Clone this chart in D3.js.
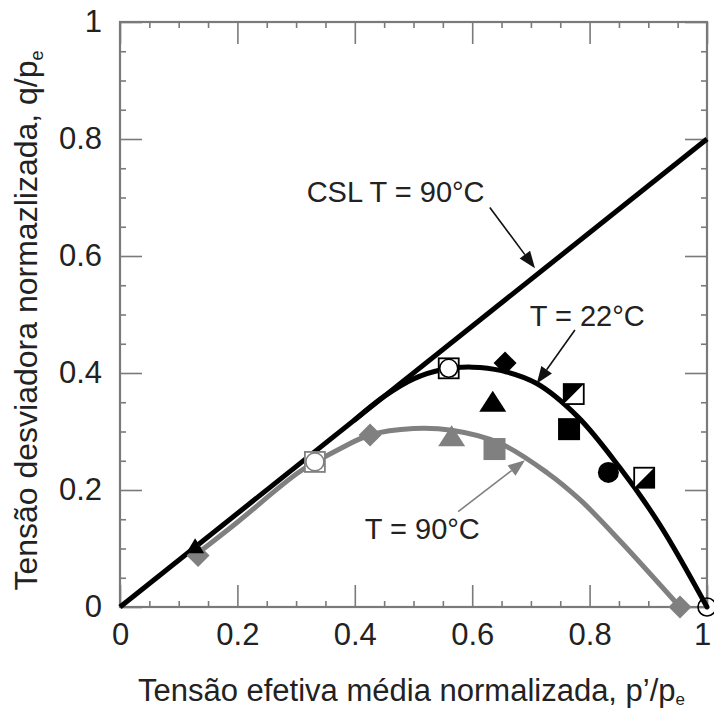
<!DOCTYPE html>
<html>
<head>
<meta charset="utf-8">
<script src="https://cdn.jsdelivr.net/npm/d3@7"></script>
<style>
  body { margin: 0; background: #fff; }
  text { font-family: "Liberation Sans", Arial, sans-serif; fill: #222; }
  .tick text { font-family: "Liberation Sans Narrow", "Liberation Sans", Arial, sans-serif; }
</style>
</head>
<body>
<svg id="chart" width="714" height="711"></svg>
<script>
// Axis ticks
const majorTicks = [0, 0.2, 0.4, 0.6, 0.8, 1];
const minorTicks = d3.range(0, 1.0001, 0.05).map(v => +v.toFixed(2)).filter(v => !majorTicks.includes(v));
const tickLabels = ["0", "0.2", "0.4", "0.6", "0.8", "1"];

// Critical state line at 90°C (p'/pe, q/pe)
const cslLine = [[0, 0], [1, 0.8]];

// Yield envelopes at 22°C and 90°C
const curve22 = [[0.40, 0.32], [0.45, 0.36], [0.50, 0.39], [0.55, 0.406], [0.60, 0.41], [0.65, 0.404],
                 [0.71, 0.382], [0.78, 0.325], [0.85, 0.24], [0.92, 0.14], [1.0, 0]];
const curve90 = [[0.13, 0.09], [0.20, 0.145], [0.307, 0.232], [0.37, 0.268], [0.426, 0.294], [0.50, 0.305],
                 [0.565, 0.302], [0.647, 0.28], [0.727, 0.23], [0.784, 0.183], [0.85, 0.115], [0.954, 0]];

// Test results: [p'/pe, q/pe, symbol]
const points90 = [[0.133, 0.088, "diamond"], [0.332, 0.248, "squareCircle"], [0.426, 0.294, "diamond"],
                  [0.565, 0.292, "triangle"], [0.638, 0.27, "square"], [0.954, 0, "diamond"]];
const points22 = [[0.128, 0.104, "triangleSmall"], [0.56, 0.408, "squareCircle"], [0.656, 0.417, "diamond"],
                  [0.635, 0.351, "triangle"], [0.773, 0.364, "halfSquareUL"], [0.765, 0.304, "square"],
                  [0.832, 0.230, "circle"], [0.893, 0.221, "halfSquareLR"], [1.0, 0, "openCircle"]];

// Annotations: label, text anchor point, arrow start, arrow tip, colour
const annotLabels = ["CSL T = 90°C", "T = 22°C", "T = 90°C"];
const annotText = [[0.318, 0.692], [0.698, 0.480], [0.417, 0.116]];
const annotFrom = [[0.630, 0.683], [0.775, 0.4735], [0.576, 0.163]];
const annotTo = [[0.707, 0.579], [0.71, 0.382], [0.690, 0.251]];
const annotColor = ["#111", "#111", "#808080"];

const BLACK = "#000";
const GREY = "#808080";
const FRAME = "#7a7a7a";

const svg = d3.select("#chart");
const x = d3.scaleLinear().domain([0, 1]).range([120, 707]);
const y = d3.scaleLinear().domain([0, 1]).range([607, 22]);

// Frame
svg.append("rect")
  .attr("x", x(0)).attr("y", y(1))
  .attr("width", x(1) - x(0)).attr("height", y(0) - y(1))
  .attr("fill", "none").attr("stroke", FRAME).attr("stroke-width", 2.2);

function styleAxis(g, showText) {
  g.select(".domain").remove();
  g.selectAll(".tick line").attr("stroke", FRAME).attr("stroke-width", 1.6);
  if (!showText) g.selectAll(".tick text").remove();
}

const fmt = (d) => tickLabels[majorTicks.indexOf(d)];

// Bottom
svg.append("g").attr("transform", `translate(0,${y(0)})`)
  .call(d3.axisBottom(x).tickValues(majorTicks).tickSize(-22).tickPadding(16).tickFormat(fmt))
  .call(g => styleAxis(g, true))
  .call(g => g.selectAll(".tick text").attr("font-size", 31).attr("fill", "#2a2a2a")
    .attr("dx", d => d === 1 ? -5 : 0));
svg.append("g").attr("transform", `translate(0,${y(0)})`)
  .call(d3.axisBottom(x).tickValues(minorTicks).tickSize(-6))
  .call(g => styleAxis(g, false));
// Top
svg.append("g").attr("transform", `translate(0,${y(1)})`)
  .call(d3.axisTop(x).tickValues(majorTicks).tickSize(-22))
  .call(g => styleAxis(g, false));
svg.append("g").attr("transform", `translate(0,${y(1)})`)
  .call(d3.axisTop(x).tickValues(minorTicks).tickSize(-6))
  .call(g => styleAxis(g, false));
// Left
svg.append("g").attr("transform", `translate(${x(0)},0)`)
  .call(d3.axisLeft(y).tickValues(majorTicks).tickSize(-22).tickPadding(18).tickFormat(fmt))
  .call(g => styleAxis(g, true))
  .call(g => g.selectAll(".tick text").attr("font-size", 31).attr("fill", "#2a2a2a"));
svg.append("g").attr("transform", `translate(${x(0)},0)`)
  .call(d3.axisLeft(y).tickValues(minorTicks).tickSize(-6))
  .call(g => styleAxis(g, false));
// Right
svg.append("g").attr("transform", `translate(${x(1)},0)`)
  .call(d3.axisRight(y).tickValues(majorTicks).tickSize(-22))
  .call(g => styleAxis(g, false));
svg.append("g").attr("transform", `translate(${x(1)},0)`)
  .call(d3.axisRight(y).tickValues(minorTicks).tickSize(-6))
  .call(g => styleAxis(g, false));

// Axis titles
const xt = svg.append("text").attr("x", (x(0) + x(1)) / 2 - 2).attr("y", 701)
  .attr("text-anchor", "middle").attr("font-size", 31);
xt.append("tspan").text("Tensão efetiva média normalizada, p’/p");
xt.append("tspan").attr("font-size", 17).attr("dy", 4).text("e");

const yt = svg.append("text")
  .attr("transform", `translate(37,${(y(0) + y(1)) / 2 + 6}) rotate(-90)`)
  .attr("text-anchor", "middle").attr("font-size", 32);
yt.append("tspan").text("Tensão desviadora normazlizada, q/p");
yt.append("tspan").attr("font-size", 18).attr("dy", 6).text("e");

// Lines
const line = d3.line().x(d => x(d[0])).y(d => y(d[1])).curve(d3.curveCatmullRom.alpha(0.5));

svg.append("path").datum(curve90).attr("d", line)
  .attr("fill", "none").attr("stroke", GREY).attr("stroke-width", 5).attr("stroke-linecap", "round");
svg.append("path").datum(cslLine).attr("d", d3.line().x(d => x(d[0])).y(d => y(d[1])))
  .attr("fill", "none").attr("stroke", BLACK).attr("stroke-width", 5);
svg.append("path").datum(curve22).attr("d", line)
  .attr("fill", "none").attr("stroke", BLACK).attr("stroke-width", 5).attr("stroke-linecap", "round");

// Markers
function drawMarker(g, cx, cy, shape, color) {
  const m = g.append("g").attr("transform", `translate(${cx},${cy})`);
  switch (shape) {
    case "diamond":
      m.append("path").attr("d", "M0,-11.5L11.5,0L0,11.5L-11.5,0Z").attr("fill", color);
      break;
    case "triangle":
      m.append("path").attr("d", "M0,-11L13.5,10L-13.5,10Z").attr("fill", color);
      break;
    case "triangleSmall":
      m.append("path").attr("d", "M0,-8L9,7L-9,7Z").attr("fill", color);
      break;
    case "square":
      m.append("rect").attr("x", -11).attr("y", -11).attr("width", 22).attr("height", 22).attr("fill", color);
      break;
    case "circle":
      m.append("circle").attr("r", 10.5).attr("fill", color);
      break;
    case "openCircle":
      m.append("circle").attr("r", 9).attr("fill", "none").attr("stroke", color).attr("stroke-width", 1.6);
      break;
    case "squareCircle":
      m.append("rect").attr("x", -10).attr("y", -10).attr("width", 20).attr("height", 20)
        .attr("fill", "#fff").attr("stroke", color).attr("stroke-width", 1.8);
      m.append("circle").attr("r", 9).attr("fill", "none").attr("stroke", color).attr("stroke-width", 1.6);
      break;
    case "halfSquareUL":
      m.append("rect").attr("x", -10).attr("y", -10).attr("width", 20).attr("height", 20)
        .attr("fill", "#fff").attr("stroke", color).attr("stroke-width", 1.8);
      m.append("path").attr("d", "M-10,-10L10,-10L-10,10Z").attr("fill", color);
      break;
    case "halfSquareLR":
      m.append("rect").attr("x", -10).attr("y", -10).attr("width", 20).attr("height", 20)
        .attr("fill", "#fff").attr("stroke", color).attr("stroke-width", 1.8);
      m.append("path").attr("d", "M10,-10L10,10L-10,10Z").attr("fill", color);
      break;
  }
}

const mk = svg.append("g");
points90.forEach(d => drawMarker(mk, x(d[0]), y(d[1]), d[2], GREY));
points22.forEach(d => drawMarker(mk, x(d[0]), y(d[1]), d[2], BLACK));

// Annotations with arrows
annotLabels.forEach((label, i) => {
  const [x0, y0] = [x(annotFrom[i][0]), y(annotFrom[i][1])];
  const [x1, y1] = [x(annotTo[i][0]), y(annotTo[i][1])];
  const ang = Math.atan2(y1 - y0, x1 - x0);
  const len = 17, half = 6.5;
  const bx = x1 - len * Math.cos(ang), by = y1 - len * Math.sin(ang);
  const px = -Math.sin(ang) * half, py = Math.cos(ang) * half;
  svg.append("line").attr("x1", x0).attr("y1", y0).attr("x2", bx).attr("y2", by)
    .attr("stroke", annotColor[i]).attr("stroke-width", 1.6);
  svg.append("path")
    .attr("d", `M${x1},${y1}L${bx + px},${by + py}L${bx - px},${by - py}Z`)
    .attr("fill", annotColor[i]);
  svg.append("text").attr("x", x(annotText[i][0])).attr("y", y(annotText[i][1]))
    .attr("font-size", 29).attr("fill", "#222").text(label);
});
</script>
</body>
</html>
